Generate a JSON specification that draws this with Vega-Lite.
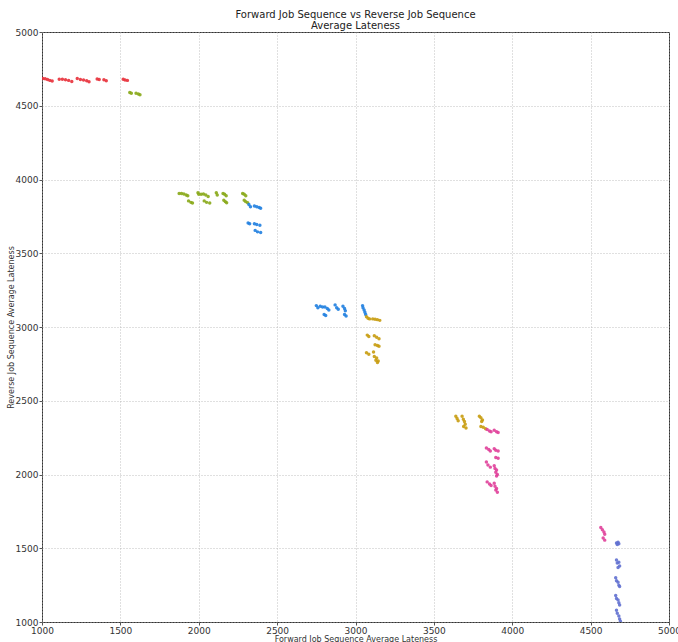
{
  "$schema": "https://vega.github.io/schema/vega-lite/v6.json",
  "width": 627,
  "height": 590,
  "autosize": {"type": "none"},
  "padding": {"left": 42, "top": 32, "right": 9, "bottom": 20},
  "background": "white",
  "title": {
    "text": ["Forward Job Sequence vs Reverse Job Sequence", "Average Lateness"],
    "fontSize": 10,
    "fontWeight": "normal",
    "font": "DejaVu Sans",
    "color": "#222",
    "anchor": "middle",
    "offset": -3,
    "lineHeight": 11
  },
  "data": {
    "values": [
      {"x": 1005, "y": 4685, "g": "A"}, {"x": 1020, "y": 4683, "g": "A"}, {"x": 1035, "y": 4678, "g": "A"}, {"x": 1050, "y": 4672, "g": "A"}, {"x": 1065, "y": 4668, "g": "A"},
      {"x": 1110, "y": 4680, "g": "A"}, {"x": 1130, "y": 4680, "g": "A"}, {"x": 1150, "y": 4676, "g": "A"}, {"x": 1170, "y": 4672, "g": "A"}, {"x": 1190, "y": 4665, "g": "A"},
      {"x": 1225, "y": 4685, "g": "A"}, {"x": 1245, "y": 4678, "g": "A"}, {"x": 1265, "y": 4675, "g": "A"}, {"x": 1285, "y": 4670, "g": "A"}, {"x": 1300, "y": 4662, "g": "A"},
      {"x": 1352, "y": 4682, "g": "A"}, {"x": 1365, "y": 4678, "g": "A"}, {"x": 1395, "y": 4676, "g": "A"}, {"x": 1410, "y": 4670, "g": "A"},
      {"x": 1518, "y": 4680, "g": "A"}, {"x": 1530, "y": 4675, "g": "A"}, {"x": 1545, "y": 4672, "g": "A"},
      {"x": 1560, "y": 4590, "g": "B"}, {"x": 1570, "y": 4585, "g": "B"}, {"x": 1600, "y": 4585, "g": "B"}, {"x": 1615, "y": 4580, "g": "B"}, {"x": 1625, "y": 4575, "g": "B"},
      {"x": 1875, "y": 3905, "g": "B"}, {"x": 1890, "y": 3905, "g": "B"}, {"x": 1905, "y": 3902, "g": "B"}, {"x": 1920, "y": 3895, "g": "B"}, {"x": 1930, "y": 3890, "g": "B"},
      {"x": 1935, "y": 3855, "g": "B"}, {"x": 1950, "y": 3845, "g": "B"}, {"x": 1960, "y": 3840, "g": "B"},
      {"x": 1995, "y": 3910, "g": "B"}, {"x": 2000, "y": 3900, "g": "B"},
      {"x": 2015, "y": 3900, "g": "B"}, {"x": 2030, "y": 3902, "g": "B"}, {"x": 2045, "y": 3895, "g": "B"}, {"x": 2060, "y": 3885, "g": "B"},
      {"x": 2035, "y": 3855, "g": "B"}, {"x": 2050, "y": 3845, "g": "B"}, {"x": 2070, "y": 3840, "g": "B"},
      {"x": 2112, "y": 3910, "g": "B"}, {"x": 2118, "y": 3895, "g": "B"},
      {"x": 2155, "y": 3905, "g": "B"}, {"x": 2165, "y": 3900, "g": "B"}, {"x": 2175, "y": 3890, "g": "B"},
      {"x": 2160, "y": 3860, "g": "B"}, {"x": 2170, "y": 3850, "g": "B"}, {"x": 2178, "y": 3842, "g": "B"},
      {"x": 2280, "y": 3905, "g": "B"}, {"x": 2290, "y": 3900, "g": "B"}, {"x": 2300, "y": 3890, "g": "B"},
      {"x": 2290, "y": 3860, "g": "B"}, {"x": 2300, "y": 3850, "g": "B"}, {"x": 2312, "y": 3842, "g": "B"},
      {"x": 2320, "y": 3830, "g": "C"}, {"x": 2330, "y": 3815, "g": "C"},
      {"x": 2355, "y": 3820, "g": "C"}, {"x": 2370, "y": 3815, "g": "C"}, {"x": 2385, "y": 3810, "g": "C"}, {"x": 2395, "y": 3805, "g": "C"},
      {"x": 2315, "y": 3705, "g": "C"}, {"x": 2325, "y": 3700, "g": "C"},
      {"x": 2355, "y": 3700, "g": "C"}, {"x": 2370, "y": 3695, "g": "C"}, {"x": 2390, "y": 3690, "g": "C"},
      {"x": 2360, "y": 3655, "g": "C"}, {"x": 2375, "y": 3645, "g": "C"}, {"x": 2395, "y": 3640, "g": "C"},
      {"x": 2750, "y": 3145, "g": "C"}, {"x": 2760, "y": 3130, "g": "C"}, {"x": 2775, "y": 3140, "g": "C"}, {"x": 2790, "y": 3135, "g": "C"}, {"x": 2805, "y": 3135, "g": "C"}, {"x": 2820, "y": 3125, "g": "C"}, {"x": 2830, "y": 3115, "g": "C"},
      {"x": 2800, "y": 3085, "g": "C"}, {"x": 2810, "y": 3078, "g": "C"},
      {"x": 2870, "y": 3150, "g": "C"}, {"x": 2880, "y": 3130, "g": "C"}, {"x": 2890, "y": 3120, "g": "C"},
      {"x": 2920, "y": 3140, "g": "C"}, {"x": 2930, "y": 3125, "g": "C"}, {"x": 2935, "y": 3110, "g": "C"},
      {"x": 2930, "y": 3085, "g": "C"}, {"x": 2940, "y": 3075, "g": "C"},
      {"x": 3045, "y": 3145, "g": "C"}, {"x": 3048, "y": 3130, "g": "C"}, {"x": 3055, "y": 3115, "g": "C"}, {"x": 3060, "y": 3100, "g": "C"}, {"x": 3065, "y": 3085, "g": "C"},
      {"x": 3070, "y": 3070, "g": "D"}, {"x": 3080, "y": 3060, "g": "D"}, {"x": 3090, "y": 3055, "g": "D"},
      {"x": 3110, "y": 3055, "g": "D"}, {"x": 3125, "y": 3052, "g": "D"}, {"x": 3140, "y": 3050, "g": "D"}, {"x": 3155, "y": 3045, "g": "D"},
      {"x": 3075, "y": 2945, "g": "D"}, {"x": 3085, "y": 2935, "g": "D"},
      {"x": 3120, "y": 2940, "g": "D"}, {"x": 3135, "y": 2930, "g": "D"}, {"x": 3150, "y": 2920, "g": "D"},
      {"x": 3125, "y": 2880, "g": "D"}, {"x": 3140, "y": 2875, "g": "D"}, {"x": 3150, "y": 2870, "g": "D"},
      {"x": 3070, "y": 2825, "g": "D"}, {"x": 3085, "y": 2815, "g": "D"},
      {"x": 3115, "y": 2830, "g": "D"}, {"x": 3120, "y": 2800, "g": "D"}, {"x": 3135, "y": 2790, "g": "D"}, {"x": 3130, "y": 2775, "g": "D"}, {"x": 3145, "y": 2770, "g": "D"}, {"x": 3140, "y": 2760, "g": "D"},
      {"x": 3640, "y": 2395, "g": "D"}, {"x": 3648, "y": 2380, "g": "D"}, {"x": 3655, "y": 2365, "g": "D"},
      {"x": 3680, "y": 2395, "g": "D"}, {"x": 3688, "y": 2375, "g": "D"}, {"x": 3695, "y": 2360, "g": "D"}, {"x": 3700, "y": 2340, "g": "D"},
      {"x": 3690, "y": 2325, "g": "D"}, {"x": 3705, "y": 2315, "g": "D"},
      {"x": 3790, "y": 2395, "g": "D"}, {"x": 3800, "y": 2385, "g": "D"}, {"x": 3810, "y": 2370, "g": "D"}, {"x": 3805, "y": 2360, "g": "D"},
      {"x": 3800, "y": 2325, "g": "D"}, {"x": 3815, "y": 2320, "g": "D"}, {"x": 3830, "y": 2310, "g": "D"},
      {"x": 3840, "y": 2305, "g": "E"}, {"x": 3855, "y": 2295, "g": "E"}, {"x": 3865, "y": 2290, "g": "E"},
      {"x": 3885, "y": 2300, "g": "E"}, {"x": 3900, "y": 2290, "g": "E"}, {"x": 3910, "y": 2285, "g": "E"},
      {"x": 3835, "y": 2180, "g": "E"}, {"x": 3850, "y": 2170, "g": "E"}, {"x": 3860, "y": 2160, "g": "E"},
      {"x": 3885, "y": 2175, "g": "E"}, {"x": 3895, "y": 2165, "g": "E"}, {"x": 3910, "y": 2160, "g": "E"},
      {"x": 3895, "y": 2115, "g": "E"}, {"x": 3910, "y": 2110, "g": "E"},
      {"x": 3835, "y": 2085, "g": "E"}, {"x": 3845, "y": 2065, "g": "E"}, {"x": 3860, "y": 2050, "g": "E"},
      {"x": 3885, "y": 2060, "g": "E"}, {"x": 3890, "y": 2040, "g": "E"}, {"x": 3900, "y": 2030, "g": "E"}, {"x": 3895, "y": 2015, "g": "E"}, {"x": 3905, "y": 2000, "g": "E"}, {"x": 3900, "y": 1990, "g": "E"},
      {"x": 3840, "y": 1950, "g": "E"}, {"x": 3855, "y": 1935, "g": "E"}, {"x": 3865, "y": 1925, "g": "E"},
      {"x": 3885, "y": 1940, "g": "E"}, {"x": 3890, "y": 1920, "g": "E"}, {"x": 3900, "y": 1905, "g": "E"}, {"x": 3895, "y": 1895, "g": "E"}, {"x": 3905, "y": 1880, "g": "E"},
      {"x": 4565, "y": 1640, "g": "E"}, {"x": 4575, "y": 1625, "g": "E"}, {"x": 4585, "y": 1610, "g": "E"}, {"x": 4590, "y": 1595, "g": "E"},
      {"x": 4580, "y": 1570, "g": "E"}, {"x": 4590, "y": 1555, "g": "E"},
      {"x": 4665, "y": 1535, "g": "F"}, {"x": 4675, "y": 1540, "g": "F"}, {"x": 4680, "y": 1530, "g": "F"}, {"x": 4670, "y": 1525, "g": "F"},
      {"x": 4665, "y": 1420, "g": "F"}, {"x": 4670, "y": 1400, "g": "F"}, {"x": 4680, "y": 1405, "g": "F"}, {"x": 4685, "y": 1380, "g": "F"}, {"x": 4675, "y": 1370, "g": "F"},
      {"x": 4660, "y": 1300, "g": "F"}, {"x": 4665, "y": 1280, "g": "F"}, {"x": 4675, "y": 1270, "g": "F"}, {"x": 4680, "y": 1250, "g": "F"}, {"x": 4685, "y": 1240, "g": "F"},
      {"x": 4660, "y": 1180, "g": "F"}, {"x": 4665, "y": 1160, "g": "F"}, {"x": 4675, "y": 1150, "g": "F"}, {"x": 4680, "y": 1130, "g": "F"}, {"x": 4685, "y": 1115, "g": "F"},
      {"x": 4665, "y": 1080, "g": "F"}, {"x": 4670, "y": 1060, "g": "F"}, {"x": 4680, "y": 1040, "g": "F"}, {"x": 4685, "y": 1020, "g": "F"}, {"x": 4690, "y": 1005, "g": "F"}
    ]
  },
  "mark": {"type": "point", "filled": true, "size": 12, "opacity": 0.9, "clip": true},
  "encoding": {
    "x": {
      "field": "x", "type": "quantitative",
      "scale": {"domain": [1000, 5000], "nice": false, "zero": false},
      "axis": {"title": "Forward Job Sequence Average Lateness", "values": [1000, 1500, 2000, 2500, 3000, 3500, 4000, 4500, 5000], "titlePadding": 0}
    },
    "y": {
      "field": "y", "type": "quantitative",
      "scale": {"domain": [1000, 5000], "nice": false, "zero": false},
      "axis": {"title": "Reverse Job Sequence Average Lateness", "values": [1000, 1500, 2000, 2500, 3000, 3500, 4000, 4500, 5000], "titlePadding": 0}
    },
    "color": {
      "field": "g", "type": "nominal", "legend": null,
      "scale": {"domain": ["A", "B", "C", "D", "E", "F"], "range": ["#e8303a", "#88a818", "#2080e0", "#c89c10", "#e0409a", "#6070d0"]}
    }
  },
  "config": {
    "font": "DejaVu Sans",
    "view": {"stroke": "#333", "strokeWidth": 1},
    "axis": {
      "format": "d",
      "labelFont": "DejaVu Sans",
      "labelFontSize": 9,
      "labelColor": "#333",
      "titleFont": "DejaVu Sans",
      "titleFontSize": 8,
      "titleFontWeight": "normal",
      "titleColor": "#333",
      "grid": true,
      "gridColor": "#b0b0b0",
      "gridDash": [1, 2],
      "gridWidth": 0.8,
      "domain": false,
      "tickSize": 3,
      "tickColor": "#555",
      "labelPadding": 1,
      "labelFlush": false,
      "labelOverlap": false
    }
  }
}
